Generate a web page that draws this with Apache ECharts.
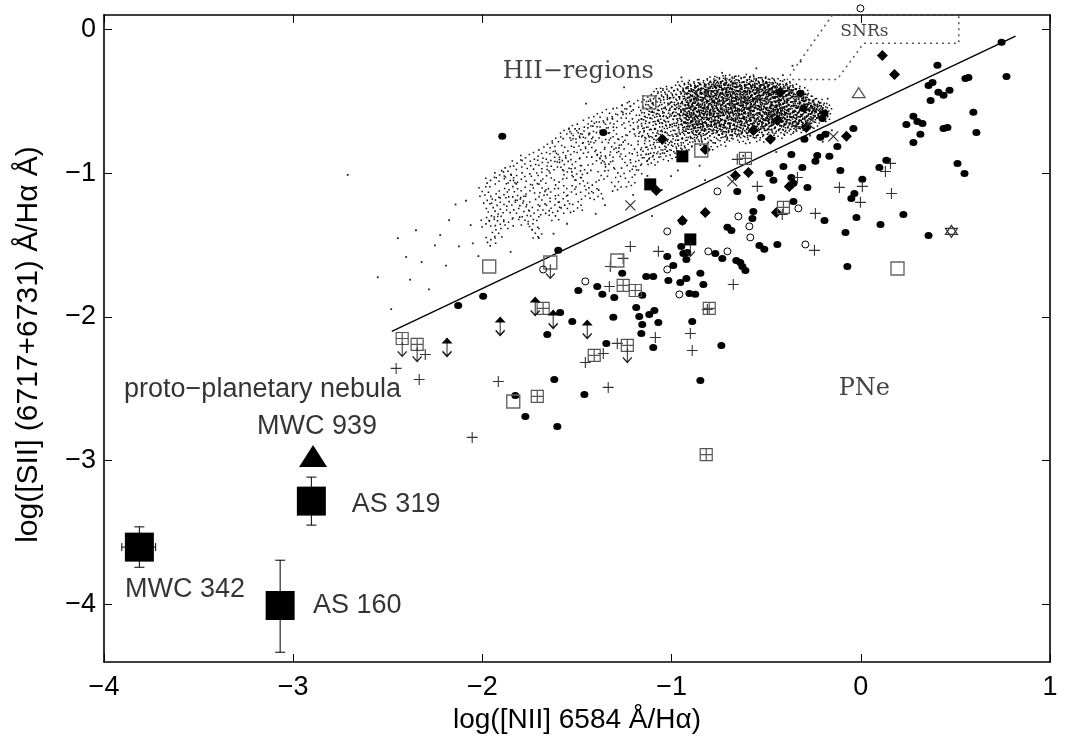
<!DOCTYPE html>
<html><head><meta charset="utf-8">
<script src="https://cdn.jsdelivr.net/npm/echarts@6/dist/echarts.min.js"></script>
<style>html,body{margin:0;padding:0;background:#fff}#c{width:1067px;height:749px}</style>
</head><body><div id="c"></div>
<script>
// ---------- data ----------
const xTickValues = [-4, -3, -2, -1, 0, 1];
const yTickValues = [-4, -3, -2, -1, 0];
const xTitle = 'log([NII] 6584 \u00c5/H\u03b1)';
const yTitle = 'log([SII] (6717+6731) \u00c5/H\u03b1 \u00c5)';

// HII region cloud: outer spread (clusters of faint dots), dense core, isolated dots
const hiiSpread = [
[-1.993,-1.128],[-1.981,-1.342],[-1.968,-1.213],[-1.957,-1.061],[-1.944,-1.297],[-1.931,-1.176],[-1.922,-1.418],[-1.909,-1.024],[-1.897,-1.251],[-1.886,-1.139],[-1.873,-0.987],[-1.862,-1.352],[-1.851,-1.198],[-1.839,-1.083],[-1.828,-1.279],[-1.817,-0.942],[-1.806,-1.156],[-1.794,-1.031],[-1.783,-1.327],[-1.772,-0.903],[-1.761,-1.234],[-1.749,-1.112],[-1.738,-0.972],[-1.727,-1.289],[-1.716,-1.049],[-1.705,-0.871],[-1.694,-1.187],[-1.683,-0.936],[-1.672,-1.256],[-1.661,-1.008],[-1.650,-0.823],[-1.639,-1.142],[-1.628,-0.952],[-1.617,-1.211],[-1.606,-0.781],[-1.595,-1.073],[-1.584,-0.889],[-1.573,-1.168],[-1.562,-0.727],[-1.551,-1.002],[-1.540,-0.846],[-1.529,-1.121],[-1.518,-0.692],[-1.507,-0.932],[-1.496,-0.787],[-1.485,-1.063],[-1.474,-0.861],[-1.463,-0.718],[-1.452,-0.976],[-1.441,-0.647],[-1.430,-0.822],[-1.419,-1.094],[-1.408,-0.751],[-1.397,-0.903],[-1.386,-0.611],[-1.375,-0.867],[-1.364,-1.017],[-1.353,-0.693],[-1.342,-0.789],[-1.331,-0.948],[-1.320,-0.584],[-1.309,-0.736],[-1.298,-0.857],[-1.287,-0.649],[-1.276,-0.998],[-1.265,-0.561],[-1.254,-0.771],[-1.243,-0.893],[-1.232,-0.618],[-1.221,-0.702],[-1.210,-0.952],[-1.199,-0.527],[-1.188,-0.833],[-1.177,-0.664],[-1.166,-0.746],[-1.155,-0.903],
[-1.912,-1.332],[-1.853,-1.041],[-1.791,-1.193],[-1.733,-1.362],[-1.676,-1.103],[-1.618,-0.879],[-1.559,-1.246],[-1.502,-1.017],[-1.447,-0.756],[-1.389,-1.151],[-1.333,-0.653],[-1.276,-0.817],[-1.219,-1.062],[-1.161,-0.612],[-1.622,-1.297],[-1.567,-0.951],[-1.512,-0.738],[-1.456,-1.148],[-1.402,-0.677],[-1.347,-0.906],[-1.292,-1.092],[-1.237,-0.543],[-1.183,-0.978],[-1.955,-1.473],[-1.712,-1.418],[-1.497,-1.232]
];
const hiiSparse = [
[-2.712,-1.012],[-2.553,-1.724],[-2.482,-1.946],[-2.403,-1.583],[-2.321,-1.618],[-2.283,-1.808],[-2.223,-1.431],[-2.176,-1.327],[-2.124,-1.509],[-2.062,-1.361],[-2.051,-1.488],[-2.142,-1.218],[-2.251,-1.502],[-2.351,-1.397],[-2.021,-1.577],[-2.382,-1.741],[-2.447,-1.452],[-2.087,-1.192],[-2.192,-1.643],
[-0.318,-0.224],[-0.361,-0.253],[-0.552,-0.271],[-0.733,-0.302],[-0.948,-0.334],[-1.251,-0.403],[-1.452,-0.517],[-0.153,-0.702],[-0.201,-0.781],[-0.447,-0.853],[-0.621,-0.879],[-0.852,-0.948],[-1.003,-1.021],[-1.052,-1.117],[-1.203,-1.151],[-1.352,-1.223],[-1.553,-1.352],[-1.702,-1.451],[-1.851,-1.547],[-1.624,-1.421],[-1.401,-1.283],[-1.103,-1.298],[-0.823,-1.049],[-0.268,-0.738],[-0.175,-0.482],[-0.412,-0.318],[-0.967,-0.981],[-1.128,-1.019]
];
const hiiCore = [
[-1.147,-0.712],[-1.139,-0.583],[-1.131,-0.861],[-1.126,-0.497],[-1.118,-0.654],[-1.112,-0.779],[-1.104,-0.538],[-1.097,-0.903],[-1.091,-0.617],[-1.083,-0.472],[-1.079,-0.733],[-1.071,-0.562],[-1.066,-0.826],[-1.058,-0.681],[-1.052,-0.449],[-1.047,-0.598],[-1.039,-0.752],[-1.033,-0.513],[-1.028,-0.874],[-1.021,-0.641],[-1.016,-0.437],[-1.009,-0.566],[-1.003,-0.703],[-0.998,-0.811],[-0.992,-0.482],[-0.987,-0.627],[-0.979,-0.548],[-0.973,-0.769],[-0.968,-0.429],[-0.961,-0.688],[-0.957,-0.592],[-0.951,-0.853],[-0.946,-0.511],
[-0.944,-0.641],[-0.939,-0.402],[-0.936,-0.733],[-0.931,-0.558],[-0.927,-0.469],[-0.922,-0.612],[-0.918,-0.797],[-0.913,-0.527],[-0.909,-0.668],[-0.904,-0.421],[-0.899,-0.584],[-0.895,-0.719],[-0.891,-0.493],[-0.886,-0.637],[-0.882,-0.391],[-0.878,-0.556],[-0.873,-0.771],[-0.869,-0.448],[-0.864,-0.602],[-0.861,-0.689],[-0.857,-0.517],[-0.852,-0.411],[-0.848,-0.743],[-0.844,-0.573],[-0.839,-0.476],[-0.836,-0.651],[-0.831,-0.384],[-0.827,-0.538],[-0.823,-0.706],[-0.818,-0.459],[-0.814,-0.621],[-0.811,-0.802],[-0.806,-0.502],
[-0.799,-0.583],[-0.796,-0.426],[-0.792,-0.667],[-0.787,-0.371],[-0.783,-0.532],[-0.779,-0.748],[-0.776,-0.468],[-0.771,-0.609],[-0.767,-0.397],[-0.764,-0.559],[-0.759,-0.694],[-0.755,-0.488],[-0.751,-0.628],[-0.747,-0.363],[-0.743,-0.541],[-0.739,-0.777],[-0.736,-0.443],[-0.731,-0.596],[-0.727,-0.672],[-0.723,-0.509],[-0.719,-0.381],[-0.715,-0.562],[-0.711,-0.721],[-0.707,-0.457],[-0.703,-0.613],[-0.699,-0.414],[-0.695,-0.534],[-0.691,-0.653],[-0.687,-0.358],[-0.683,-0.581],[-0.679,-0.486],[-0.675,-0.736],[-0.671,-0.427],[-0.667,-0.549],[-0.663,-0.632],[-0.659,-0.378],[-0.655,-0.512],
[-0.651,-0.702],[-0.647,-0.441],[-0.643,-0.587],[-0.639,-0.364],[-0.635,-0.526],[-0.631,-0.659],[-0.627,-0.473],[-0.623,-0.611],[-0.619,-0.392],[-0.615,-0.753],[-0.611,-0.547],[-0.607,-0.431],[-0.603,-0.678],[-0.599,-0.503],[-0.595,-0.354],[-0.591,-0.594],[-0.587,-0.462],[-0.583,-0.641],[-0.579,-0.387],[-0.575,-0.529],[-0.571,-0.716],[-0.567,-0.448],[-0.563,-0.573],[-0.559,-0.369],[-0.555,-0.619],[-0.551,-0.491],[-0.547,-0.682],[-0.543,-0.419],[-0.539,-0.556],[-0.535,-0.638],[-0.531,-0.376],[-0.527,-0.518],[-0.523,-0.743],[-0.519,-0.456],[-0.515,-0.601],[-0.511,-0.401],[-0.507,-0.547],[-0.503,-0.662],
[-0.499,-0.478],[-0.495,-0.372],[-0.491,-0.589],[-0.487,-0.703],[-0.483,-0.433],[-0.479,-0.532],[-0.475,-0.627],[-0.471,-0.389],[-0.467,-0.566],[-0.463,-0.469],[-0.459,-0.681],[-0.455,-0.412],[-0.451,-0.601],[-0.447,-0.521],[-0.443,-0.657],[-0.439,-0.441],[-0.435,-0.578],[-0.431,-0.383],[-0.427,-0.717],[-0.423,-0.499],[-0.419,-0.619],[-0.415,-0.456],[-0.411,-0.543],[-0.407,-0.671],[-0.403,-0.401],[-0.399,-0.588],[-0.395,-0.487],[-0.391,-0.637],[-0.387,-0.429],[-0.383,-0.551],[-0.379,-0.692],[-0.375,-0.467],[-0.371,-0.607],[-0.367,-0.414],[-0.363,-0.529],[-0.359,-0.651],[-0.355,-0.572],
[-0.351,-0.443],[-0.347,-0.618],[-0.343,-0.506],[-0.339,-0.682],[-0.335,-0.459],[-0.331,-0.571],[-0.327,-0.636],[-0.323,-0.489],[-0.319,-0.553],[-0.315,-0.661],[-0.311,-0.437],[-0.307,-0.597],[-0.302,-0.521],[-0.297,-0.641],[-0.292,-0.478],[-0.287,-0.578],[-0.282,-0.532],[-0.277,-0.617],[-0.271,-0.496],[-0.265,-0.563],[-0.259,-0.647],[-0.253,-0.521],[-0.246,-0.589],[-0.239,-0.547],[-0.231,-0.612],[-0.224,-0.528],[-0.216,-0.576],[-0.207,-0.553],[-0.196,-0.601],[-0.185,-0.567],
[-0.917,-0.683],[-0.904,-0.551],[-0.893,-0.642],[-0.879,-0.508],[-0.866,-0.661],[-0.853,-0.563],[-0.842,-0.697],[-0.829,-0.613],[-0.817,-0.548],[-0.806,-0.669],[-0.794,-0.507],[-0.781,-0.587],[-0.769,-0.641],[-0.758,-0.522],[-0.744,-0.686],[-0.733,-0.473],[-0.721,-0.638],[-0.709,-0.542],[-0.697,-0.697],[-0.686,-0.461],[-0.673,-0.598],[-0.662,-0.672],[-0.649,-0.553],[-0.638,-0.489],[-0.626,-0.702],[-0.614,-0.582],[-0.602,-0.627],[-0.589,-0.523],[-0.577,-0.664],[-0.566,-0.497],[-0.553,-0.583],[-0.541,-0.714],[-0.529,-0.468],[-0.517,-0.659],[-0.506,-0.578],[-0.494,-0.638],[-0.481,-0.557],[-0.469,-0.617],[-0.457,-0.493],[-0.445,-0.566],[-0.433,-0.628],[-0.421,-0.547],[-0.409,-0.603],[-0.397,-0.459],
[-0.911,-0.452],[-0.889,-0.431],[-0.867,-0.522],[-0.846,-0.437],[-0.821,-0.409],[-0.798,-0.462],[-0.774,-0.421],[-0.752,-0.401],[-0.729,-0.418],[-0.706,-0.378],[-0.681,-0.404],[-0.657,-0.451],[-0.633,-0.398],[-0.609,-0.472],[-0.586,-0.419],[-0.561,-0.401],[-0.537,-0.447],[-0.513,-0.428],[-0.489,-0.409],[-0.465,-0.432],[-0.441,-0.479],[-0.417,-0.422]
];

// PNe: filled circles
const pnCircles = [
[-0.319,-0.445],[-0.304,-0.550],[-0.192,-0.584],[-0.203,-0.619],[-0.039,-0.689],[-0.298,-0.765],[-0.214,-0.751],[-0.187,-0.730],[-0.124,-0.814],[-0.367,-0.870],
[-0.230,-0.877],[-0.240,-0.918],[-0.166,-0.883],[-0.409,-0.953],[-0.309,-0.960],[-0.108,-0.981],[-0.483,-1.002],[-0.462,-1.050],[-0.367,-1.030],[-0.372,-1.085],
[-0.356,-1.071],[-0.282,-1.099],[0.008,-1.043],[0.098,-0.960],[0.135,-0.911],[-0.034,-1.141],[0.405,-0.250],[0.379,-0.369],[0.358,-0.390],[0.369,-0.494],
[0.410,-0.438],[0.437,-0.459],[0.469,-0.424],[0.553,-0.341],[0.569,-0.334],[0.744,-0.090],[0.770,-0.327],[0.595,-0.577],[0.278,-0.605],[0.241,-0.661],
[0.299,-0.640],[0.326,-0.654],[0.315,-0.730],[0.278,-0.786],[0.437,-0.689],[0.458,-0.682],[0.611,-0.717],[0.511,-0.932],[0.548,-1.002],[-0.526,-1.169],
[-1.895,-0.744],[-1.361,-0.717],[-0.653,-1.127],[-0.568,-1.266],[-0.573,-1.315],[-0.705,-1.377],[-0.684,-1.398],[-0.356,-1.197],[-0.192,-1.329],[-0.081,-1.412],
[-0.023,-1.308],[0.104,-1.357],[0.225,-1.287],[0.358,-1.433],[-0.071,-1.649],[-0.737,-2.198],[-0.848,-2.442],[-0.536,-1.503],[-0.510,-1.530],[-0.441,-1.496],
[-0.050,-1.176],[-0.943,-1.336],[-0.949,-1.510],[-0.938,-1.558],[-0.917,-1.551],[-0.769,-1.558],[-0.732,-1.593],[-1.023,-1.579],[-0.922,-1.600],[-0.991,-1.642],
[-0.658,-1.607],[-0.637,-1.621],[-0.626,-1.649],[-0.610,-1.677],[-1.261,-1.697],[-0.848,-1.697],[-1.134,-1.718],[-1.097,-1.718],[-1.017,-1.746],[-0.922,-1.732],
[-0.954,-1.760],[-0.832,-1.774],[-1.393,-1.788],[-1.493,-1.816],[-1.366,-1.843],[-1.303,-1.864],[-1.155,-1.850],[-0.906,-1.837],[-0.875,-1.843],[-1.187,-1.934],
[-1.091,-1.955],[-1.118,-1.983],[-1.171,-1.997],[-1.308,-2.003],[-1.589,-1.969],[-1.525,-2.031],[-1.155,-2.052],[-1.070,-2.038],[-0.891,-2.031],[-2.128,-1.920],
[-1.996,-1.857],[-1.599,-1.537],[-1.657,-2.122],[-1.620,-2.435],[-1.461,-2.539],[-1.773,-2.692],[-1.604,-2.762],[-1.826,-2.546],[-1.097,-2.212],[-1.345,-2.184],
[-1.160,-2.115]
];
const pnDiamonds = [
[-0.425,-0.438],[-0.568,-0.703],[-0.478,-0.765],[-0.441,-0.633],[-0.288,-0.682],[-1.049,-0.765],[-0.822,-0.835],[-0.663,-1.016],[-0.594,-0.995],
[-0.822,-1.273],[-0.943,-1.329],[-1.081,-1.120],[-0.446,-1.273],[0.114,-0.181],[0.178,-0.313],[-0.076,-0.744],[-0.378,-1.092]
];
const pnPlus = [
[-2.456,-2.358],[-2.334,-2.435],[-2.302,-2.261],[-1.916,-2.449],[-2.054,-2.838],[-1.335,-2.490],[-1.086,-2.143],[-0.901,-2.115],[-0.891,-2.233],
[-1.218,-1.510],[-1.070,-1.544],[-1.256,-1.593],[-1.324,-1.649],[-1.329,-1.788],[-1.287,-2.184],[-1.361,-2.254],[-1.456,-2.317],[-0.674,-1.774],
[-0.653,-0.904],[-0.547,-1.092],[-0.335,-1.030],[-0.415,-1.287],[-0.341,-0.675],[-0.113,-1.099],[0.008,-1.092],[0.130,-0.988],[0.157,-0.932],
[0.162,-1.141],[-0.002,-1.203],[-0.240,-1.280],[-0.245,-1.537],[-0.811,-1.948]
];
const pnBoxCross = [
[-2.424,-2.150],[-2.345,-2.191],[-1.679,-1.941],[-1.256,-1.781],[-1.192,-1.816],[-0.801,-1.941],[-1.234,-2.198],[-1.409,-2.268],[-1.710,-2.553],
[-0.610,-0.897],[-0.409,-1.238],[-0.817,-2.957]
];
const pnOpenSquares = [[-1.118,-0.508],[-0.843,-0.842],[-1.964,-1.649],[-1.641,-1.621],[-1.287,-1.607],[-1.837,-2.588],[0.194,-1.663]];
const pnOpenCircles = [
[-0.758,-1.127],[-1.023,-1.405],[-0.647,-1.301],[-0.589,-1.370],[-0.584,-1.447],[-0.806,-1.544],[-0.705,-1.544],[-1.023,-1.670],
[-1.456,-1.753],[-0.959,-1.843],[-1.679,-1.670],[-0.330,-1.245],[-0.293,-1.496],[-0.002,0.146]
];
const pnCrosses = [[-1.218,-1.224],[-0.679,-1.057],[-0.277,-0.654],[-0.145,-0.744]];
const pnFilledSquares = [[-0.943,-0.883],[-1.113,-1.078],[-0.901,-1.461]];
const upperLimits = [[-2.424,-2.226],[-2.345,-2.261],[-1.234,-2.268],[-1.641,-1.683],[-0.901,-1.530]];
const doubleLimits = [[-2.187,-2.212],[-1.906,-2.066],[-1.721,-1.927],[-1.626,-2.017],[-1.446,-2.087]];
const openTriangle = [[-0.011,-0.440]];
const starPoint = [[0.479,-1.405]];

// dividing line and SNR region
const dividerLine = [[-2.479,-2.101],[0.818,-0.047]];
const snrRegion = [[-0.150,0.100],[-0.390,-0.348],[-0.125,-0.348],[0.015,-0.097],[0.518,-0.097],[0.518,0.100],[-0.150,0.100]];

// the four objects of the study
const studySquares = [[-3.813,-3.601],[-2.904,-3.281],[-3.069,-4.007]];
const studyTriangle = [[-2.895,-2.968]];
const errorBarsV = [[-3.813,-3.741,-3.460],[-2.904,-3.448,-3.114],[-3.069,-4.332,-3.692]];
const errorBarsH = [[-3.906,-3.727,-3.601]];

// text annotations
const sansNotes = [
  {name:'proto\u2212planetary nebula', value:[-3.894,-2.504]},
  {name:'MWC 939', value:[-3.191,-2.762]},
  {name:'AS 319', value:[-2.690,-3.304]},
  {name:'MWC 342', value:[-3.889,-3.896]},
  {name:'AS 160', value:[-2.895,-4.007]}
];
const serifNotes = [
  {name:'HII\u2212regions', value:[-1.493,-0.292]},
  {name:'PNe', value:[0.019,-2.497]}
];
const smallSerifNotes = [
  {name:'SNRs', value:[0.019,-0.014]}
];

// ---------- chart ----------
const fmt = v => (v < 0 ? '\u2212' + Math.abs(v) : String(v));
const SANS = 'Liberation Sans';
const SERIF = 'DejaVu Serif';
const frameLine = {show:true, onZero:false, lineStyle:{color:'#000', width:1.6}};
const tickIn = {show:true, inside:true, length:8, lineStyle:{color:'#000', width:1}};
const strokeSym = (color, w) => ({color:'rgba(0,0,0,0)', borderColor:color, borderWidth:w, opacity:1});
const fill = c => ({color:c, opacity:1});
// speckle glyphs: each cloud position is rendered as a small cluster of 1-px dots
const sq = (x, y) => 'M' + x + ',' + y + 'L' + (x + 1.4) + ',' + y + 'L' + (x + 1.4) + ',' + (y + 1.4) + 'L' + x + ',' + (y + 1.4) + 'Z';
const speckleA = 'path://' + [[0,0.8],[6.2,0],[2.9,4.3],[8.6,4.9],[0.9,8.6],[5.4,7.4]].map(p => sq(p[0], p[1])).join('');
const speckleB = 'path://' + [[0,2.1],[3.4,0],[7.9,1.2],[10.6,3.8],[1.8,5.6],[5.6,4.7],[8.8,7.5],[0.6,10.1],[4.2,9.2],[10.2,10.6],[6.4,11.2]].map(p => sq(p[0], p[1])).join('');
const rot = (v, p) => (p.dataIndex % 4) * 90;

const chart = echarts.init(document.getElementById('c'), null, {renderer:'canvas'});
chart.setOption({
  animation:false,
  backgroundColor:'#fff',
  grid:{left:104, right:17, top:15, bottom:87, containLabel:false},
  xAxis:[
    {type:'value', min:-4, max:1, interval:1, position:'bottom',
     axisLine:frameLine, axisTick:tickIn, splitLine:{show:false},
     axisLabel:{color:'#000', fontSize:27, fontFamily:SANS, margin:12, formatter:fmt},
     name:xTitle, nameLocation:'middle', nameGap:44,
     nameTextStyle:{color:'#000', fontSize:28, fontFamily:SANS}},
    {type:'value', min:-4, max:1, interval:1, position:'top',
     axisLine:frameLine, axisTick:tickIn, splitLine:{show:false}, axisLabel:{show:false}}
  ],
  yAxis:[
    {type:'value', min:-4.4, max:0.1, position:'left',
     axisLine:frameLine, axisTick:Object.assign({customValues:yTickValues}, tickIn), splitLine:{show:false},
     axisLabel:{customValues:yTickValues, color:'#000', fontSize:27, fontFamily:SANS, margin:8, formatter:fmt},
     name:yTitle, nameLocation:'middle', nameGap:60, nameRotate:90,
     nameTextStyle:{color:'#000', fontSize:30, fontFamily:SANS, padding:[0,12,0,0]}},
    {type:'value', min:-4.4, max:0.1, position:'right',
     axisLine:frameLine, axisTick:Object.assign({customValues:yTickValues}, tickIn), splitLine:{show:false},
     axisLabel:{show:false}}
  ],
  series:[
    {type:'line', data:snrRegion, symbol:'none', z:1, silent:true,
     lineStyle:{color:'#555', width:1.5, type:[2,4]}},
    {type:'scatter', data:hiiSpread, symbol:speckleA, symbolSize:11, symbolRotate:rot, z:1, silent:true, itemStyle:fill('#111')},
    {type:'scatter', data:hiiCore, symbol:speckleB, symbolSize:13, symbolRotate:rot, z:1, silent:true, itemStyle:fill('#000')},
    {type:'scatter', data:hiiSparse, symbol:'rect', symbolSize:1.8, z:1, silent:true, itemStyle:fill('#222')},
    {type:'line', data:dividerLine, symbol:'none', z:2, silent:true,
     lineStyle:{color:'#000', width:1.4}},
    {type:'scatter', data:pnCircles, symbol:'circle', symbolSize:[8,7], z:3, itemStyle:fill('#000')},
    {type:'scatter', data:pnDiamonds, symbol:'diamond', symbolSize:11, z:3, itemStyle:fill('#000')},
    {type:'scatter', data:pnPlus, symbol:'path://M5,0L5,10M0,5L10,5', symbolSize:11, z:3, itemStyle:strokeSym('#333',1.1)},
    {type:'scatter', data:pnBoxCross, symbol:'path://M0,0L10,0L10,10L0,10ZM5,0L5,10M0,5L10,5', symbolSize:12, z:3, itemStyle:strokeSym('#555',1.2)},
    {type:'scatter', data:pnOpenSquares, symbol:'rect', symbolSize:13, z:3, itemStyle:strokeSym('#666',1.4)},
    {type:'scatter', data:pnOpenCircles, symbol:'circle', symbolSize:7, z:3, clip:false, itemStyle:strokeSym('#000',1)},
    {type:'scatter', data:pnCrosses, symbol:'path://M0,0L10,10M10,0L0,10', symbolSize:10, z:3, itemStyle:strokeSym('#333',1.2)},
    {type:'scatter', data:pnFilledSquares, symbol:'rect', symbolSize:12, z:3, itemStyle:fill('#000')},
    {type:'scatter', data:upperLimits, symbol:'path://M5,0L5,14M1,9L5,14L9,9', symbolSize:[9,14], z:3, itemStyle:strokeSym('#222',1.2)},
    {type:'scatter', data:doubleLimits, symbol:'path://M5,0L5,18M1,13L5,18L9,13', symbolSize:[9,18], z:3, itemStyle:strokeSym('#111',1.3)},
    {type:'scatter', data:doubleLimits, symbol:'triangle', symbolSize:[11,6], symbolOffset:[0,-7], z:3, itemStyle:fill('#000')},
    {type:'scatter', data:openTriangle, symbol:'triangle', symbolSize:[13,10], z:3, itemStyle:strokeSym('#555',1.2)},
    {type:'scatter', data:starPoint, symbol:'path://M5,0L10,8.66L0,8.66ZM5,11.55L0,2.89L10,2.89Z', symbolSize:12, z:3, itemStyle:strokeSym('#333',1.2)},
    {type:'custom', z:4, silent:true, data:errorBarsV,
     renderItem:(params, api) => {
       const x = api.value(0);
       const a = api.coord([x, api.value(1)]), b = api.coord([x, api.value(2)]);
       const st = {stroke:'#000', lineWidth:1};
       return {type:'group', children:[
         {type:'line', shape:{x1:a[0], y1:a[1], x2:b[0], y2:b[1]}, style:st},
         {type:'line', shape:{x1:a[0]-5, y1:a[1], x2:a[0]+5, y2:a[1]}, style:st},
         {type:'line', shape:{x1:b[0]-5, y1:b[1], x2:b[0]+5, y2:b[1]}, style:st}
       ]};
     }},
    {type:'custom', z:4, silent:true, data:errorBarsH,
     renderItem:(params, api) => {
       const y = api.value(2);
       const a = api.coord([api.value(0), y]), b = api.coord([api.value(1), y]);
       const st = {stroke:'#000', lineWidth:1};
       return {type:'group', children:[
         {type:'line', shape:{x1:a[0], y1:a[1], x2:b[0], y2:b[1]}, style:st},
         {type:'line', shape:{x1:a[0], y1:a[1]-4, x2:a[0], y2:a[1]+4}, style:st},
         {type:'line', shape:{x1:b[0], y1:b[1]-4, x2:b[0], y2:b[1]+4}, style:st}
       ]};
     }},
    {type:'scatter', data:studySquares, symbol:'rect', symbolSize:29, z:5, itemStyle:fill('#000')},
    {type:'scatter', data:studyTriangle, symbol:'triangle', symbolSize:[28,22], z:5, itemStyle:fill('#000')},
    {type:'scatter', data:sansNotes, symbolSize:0, z:6, silent:true,
     label:{show:true, position:'right', distance:0, formatter:'{b}', color:'#000', fontSize:27, fontFamily:SANS}},
    {type:'scatter', data:serifNotes, symbolSize:0, z:6, silent:true,
     label:{show:true, position:'inside', formatter:'{b}', color:'#111', fontFamily:SERIF, fontSize:24}},
    {type:'scatter', data:smallSerifNotes, symbolSize:0, z:6, silent:true,
     label:{show:true, position:'inside', formatter:'{b}', color:'#111', fontFamily:SERIF, fontSize:17}}
  ]
});
</script>
</body></html>
